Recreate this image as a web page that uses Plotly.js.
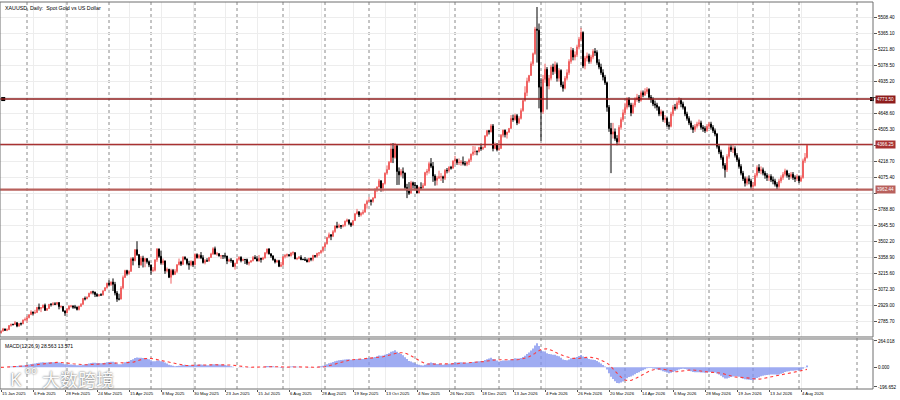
<!DOCTYPE html>
<html><head><meta charset="utf-8">
<script src="https://cdn.plot.ly/plotly-3.0.1.min.js"></script>
<style>html,body{margin:0;padding:0;background:#fff}#chart{width:900px;height:400px}</style>
</head><body><div id="chart"></div>
<script>
// ---- Data (daily XAUUSD, from 15 Jan 2025) ----
const open = [
2678,2697,2715,2703,2708,2745,2755,2754,2771,2740,2763,2760,2794,
2798,2815,2842,2866,2856,2861,2908,2898,2905,2928,2882,2897,2935,2933,2939,2936,2951,2915,2916,2876,
2858,2893,2918,2920,2910,2910,2889,2918,2935,2988,2984,3001,3034,3048,3044,3023,3011,3020,3019,3056,3084,
3124,3113,3134,3114,3037,2982,2982,3082,3175,3237,3210,3230,3343,3327,3424,3380,3288,3349,3319,3344,3317,
3288,3239,3240,3334,3431,3365,3306,3324,3235,3250,3177,3240,3203,3230,3289,3315,3294,3357,3342,3301,3288,3318,
3289,3381,3353,3373,3352,3310,3326,3322,3354,3386,3433,3385,3388,3369,3370,3368,3368,3323,3333,3328,3274,
3303,3338,3357,3326,3337,3336,3302,3313,3325,3355,3343,3324,3347,3339,3350,3397,3431,3387,3368,3336,3314,3326,3275,
3289,3362,3373,3380,3369,3396,3398,3342,3348,3356,3336,3336,3332,3315,3348,3338,3372,3365,3393,3397,3416,
3448,3477,3533,3559,3545,3586,3636,3626,3641,3634,3643,3679,3690,3660,3644,3685,3746,3764,3736,3749,3760,3833,
3858,3866,3857,3887,3961,3985,4041,3976,4018,4110,4142,4208,4326,4251,4356,4125,4095,4126,4111,3982,3951,3930,4024,
4002,4000,3932,3980,3977,4000,4115,4128,4195,4172,4084,4045,4067,4077,4077,4065,4135,4132,4163,4155,
4218,4231,4205,4206,4208,4197,4190,4208,4229,4280,4300,4304,4302,4339,4330,4339,4445,4490,4480,4533,4330,4370,
4320,4330,4450,4495,4455,4478,4510,4600,4590,4625,4560,4600,4670,4760,4830,4935,4985,5090,5180,5400,5390,
4880,4660,4950,5040,4890,4960,5060,5020,5080,4960,5030,4900,4870,4960,5010,5110,5210,5150,5170,5240,
5310,5370,5070,5140,5160,5110,5150,5200,5190,5100,5060,5010,4970,4920,4700,4510,4460,4480,4420,4390,4520,4590,
4650,4700,4770,4720,4650,4720,4770,4790,4760,4830,4810,4840,4860,4790,4770,4730,4720,4700,4640,4660,4590,
4600,4540,4530,4640,4700,4690,4740,4760,4730,4700,4640,4600,4560,4520,4500,4530,4550,4560,4520,4510,4490,
4530,4550,4520,4490,4460,4350,4300,4250,4180,4140,4260,4340,4320,4330,4270,4230,4170,4110,4060,4020,4060,4040,
3990,4000,4090,4160,4130,4140,4110,4090,4070,4080,4050,4040,4010,3990,4040,4070,4100,4130,4090,4080,4100,4070,4060,
4080,4040,4070,4220,4250
];
const high = [
2700,2724,2716,2720,2748,2763,2762,2786,2772,2765,2772,2799,2817,
2830,2845,2882,2870,2886,2911,2942,2910,2932,2942,2900,2937,2947,2955,2954,2956,2953,2925,2920,2880,
2898,2928,2930,2926,2930,2915,2921,2946,2990,3005,3004,3038,3055,3057,3048,3036,3025,3034,3060,3087,3128,
3149,3140,3167,3136,3055,3030,3099,3193,3245,3245,3240,3357,3358,3430,3500,3386,3368,3370,3352,3350,3328,
3290,3269,3336,3438,3435,3416,3345,3326,3265,3252,3253,3252,3250,3295,3345,3325,3366,3365,3344,3325,3330,3325,
3392,3392,3385,3403,3375,3340,3348,3360,3397,3446,3452,3404,3395,3375,3372,3397,3368,3346,3350,3332,3308,
3350,3365,3365,3345,3342,3345,3316,3330,3368,3375,3366,3377,3352,3361,3402,3433,3438,3393,3375,3345,3334,3334,3314,
3363,3385,3390,3384,3398,3410,3400,3352,3368,3375,3346,3358,3345,3350,3351,3379,3376,3394,3400,3423,3454,
3489,3540,3578,3562,3600,3642,3674,3657,3645,3648,3685,3703,3697,3670,3687,3750,3790,3767,3762,3782,3835,3871,
3896,3875,3895,3977,3991,4059,4046,4022,4116,4179,4218,4380,4380,4381,4358,4161,4146,4161,4114,4014,4030,4041,4034,
4030,4003,3990,4028,4020,4122,4148,4212,4245,4210,4100,4085,4132,4110,4087,4146,4156,4172,4175,4225,
4265,4240,4242,4227,4259,4218,4218,4242,4285,4353,4350,4315,4345,4375,4350,4448,4497,4498,4550,4550,4385,4378,
4402,4460,4500,4500,4480,4515,4630,4634,4643,4640,4620,4690,4765,4888,4965,4990,5110,5190,5420,5598,5450,
4960,4990,5090,5060,4990,5080,5090,5110,5100,5050,5040,4930,4980,5040,5130,5240,5230,5200,5260,5330,
5410,5380,5160,5190,5180,5170,5220,5230,5210,5130,5090,5040,4990,4930,4720,4560,4560,4510,4450,4540,4610,4680,
4740,4790,4790,4740,4740,4790,4820,4810,4850,4850,4870,4880,4870,4810,4790,4760,4740,4710,4680,4670,4630,
4610,4570,4660,4720,4730,4760,4790,4780,4750,4710,4660,4620,4580,4540,4550,4570,4590,4580,4540,4530,4550,
4570,4570,4540,4510,4470,4370,4320,4270,4200,4280,4370,4360,4360,4350,4290,4250,4190,4130,4080,4080,4090,4060,
4030,4110,4180,4190,4170,4160,4130,4110,4100,4100,4080,4060,4030,4060,4090,4120,4150,4140,4110,4120,4120,4090,4100,
4090,4090,4240,4290,4370
];
const low = [
2675,2690,2696,2695,2705,2735,2745,2750,2730,2735,2745,2758,2790,
2772,2810,2840,2835,2853,2860,2880,2865,2900,2875,2877,2895,2915,2925,2928,2930,2890,2900,2866,2832,
2855,2880,2906,2895,2895,2880,2880,2910,2930,2970,2982,3000,3024,3024,3000,3001,3005,3010,3013,3055,3076,
3100,3100,3054,3015,2957,2970,2980,3070,3173,3193,3200,3228,3284,3320,3368,3260,3282,3265,3267,3300,3268,
3202,3223,3230,3315,3351,3290,3287,3208,3220,3170,3120,3195,3200,3216,3285,3278,3287,3330,3285,3245,3275,3270,
3285,3345,3343,3340,3300,3293,3316,3318,3350,3378,3382,3370,3362,3341,3341,3345,3295,3313,3308,3268,3246,
3296,3326,3311,3322,3296,3287,3283,3310,3320,3340,3320,3318,3309,3331,3345,3383,3381,3351,3325,3301,3308,3268,3268,
3280,3346,3355,3364,3364,3375,3340,3331,3340,3330,3331,3323,3312,3312,3321,3321,3351,3352,3370,3389,3400,
3437,3470,3525,3510,3537,3576,3614,3618,3611,3624,3630,3670,3645,3627,3643,3685,3740,3717,3722,3737,3758,3792,
3851,3820,3845,3886,3940,3985,3944,3945,4007,4095,4142,4201,4200,4239,4004,4005,4078,4062,3967,3886,3915,3929,3972,
3964,3929,3930,3968,3975,3999,4090,4106,4155,4032,3998,4001,4058,4040,4022,4048,4108,4115,4142,4150,
4190,4184,4182,4176,4180,4173,4172,4182,4210,4265,4272,4270,4296,4310,4317,4338,4436,4456,4475,4305,4325,4305,
4311,4330,4430,4430,4420,4470,4510,4570,4580,4540,4550,4590,4660,4750,4800,4920,4980,5070,5170,5100,4690,
4400,4640,4920,4680,4860,4940,4990,5000,4930,4930,4880,4840,4860,4940,4990,5090,5120,5120,5150,5220,
5290,5050,5040,5110,5090,5090,5130,5160,5080,5040,4990,4940,4900,4660,4480,4110,4420,4400,4360,4370,4500,4570,
4630,4680,4700,4620,4640,4700,4750,4740,4750,4790,4800,4820,4770,4740,4710,4690,4670,4620,4620,4570,4560,
4520,4500,4520,4620,4670,4680,4720,4700,4680,4620,4580,4540,4500,4470,4480,4510,4530,4500,4480,4470,4480,
4510,4500,4470,4440,4330,4280,4230,4150,4070,4120,4240,4300,4290,4250,4210,4150,4090,4040,3990,4000,4010,3970,
3960,3990,4070,4110,4100,4090,4060,4040,4040,4030,4010,3990,3960,3970,4020,4050,4080,4070,4050,4060,4050,4030,4040,
4020,4030,4060,4200,4240
];
const close = [
2697,2715,2703,2708,2745,2755,2754,2771,2740,2763,2760,2794,2798,
2815,2842,2866,2856,2861,2908,2898,2905,2928,2882,2897,2935,2933,2939,2936,2951,2915,2916,2876,2858,
2893,2918,2920,2910,2910,2889,2918,2935,2988,2984,3001,3034,3048,3044,3023,3011,3020,3019,3056,3084,3124,
3113,3134,3114,3037,2982,2982,3082,3175,3237,3210,3230,3343,3327,3424,3380,3288,3349,3319,3344,3317,3288,
3239,3240,3334,3431,3365,3306,3324,3235,3250,3177,3240,3203,3230,3289,3315,3294,3357,3342,3301,3288,3318,3289,
3381,3353,3373,3352,3310,3326,3322,3354,3386,3433,3385,3388,3369,3370,3368,3368,3323,3333,3328,3274,3303,
3338,3357,3326,3337,3336,3302,3313,3325,3355,3343,3324,3347,3339,3350,3397,3431,3387,3368,3336,3314,3326,3275,3289,
3362,3373,3380,3369,3396,3398,3342,3348,3356,3336,3336,3332,3315,3348,3338,3372,3365,3393,3397,3416,3448,
3477,3533,3559,3545,3586,3636,3626,3641,3634,3643,3679,3690,3660,3644,3685,3746,3764,3736,3749,3760,3833,3858,
3866,3857,3887,3961,3985,4041,3976,4018,4110,4142,4208,4326,4251,4356,4125,4095,4126,4111,3982,3951,3930,4024,4002,
4000,3932,3980,3977,4000,4115,4128,4195,4172,4084,4045,4067,4077,4077,4065,4135,4132,4163,4155,4218,
4231,4205,4206,4208,4197,4190,4208,4229,4280,4300,4304,4302,4339,4330,4339,4445,4490,4480,4533,4330,4370,4320,
4330,4450,4495,4455,4478,4510,4600,4590,4625,4560,4600,4670,4760,4830,4935,4985,5090,5180,5400,5390,4880,
4660,4950,5040,4890,4960,5060,5020,5080,4960,5030,4900,4870,4960,5010,5110,5210,5150,5170,5240,5310,
5370,5070,5140,5160,5110,5150,5200,5190,5100,5060,5010,4970,4920,4700,4510,4460,4480,4420,4390,4520,4590,4650,
4700,4770,4720,4650,4720,4770,4790,4760,4830,4810,4840,4860,4790,4770,4730,4720,4700,4640,4660,4590,4600,
4540,4530,4640,4700,4690,4740,4760,4730,4700,4640,4600,4560,4520,4500,4530,4550,4560,4520,4510,4490,4530,
4550,4520,4490,4460,4350,4300,4250,4180,4140,4260,4340,4320,4330,4270,4230,4170,4110,4060,4020,4060,4040,3990,
4000,4090,4160,4130,4140,4110,4090,4070,4080,4050,4040,4010,3990,4040,4070,4100,4130,4090,4080,4100,4070,4060,4080,
4040,4070,4220,4250,4360
];
const startDate = '2025-01-15';
const holidays = ['2025-04-18','2025-12-25','2026-01-01','2026-04-03'];
const tickLabels = ['15 Jan 2025','6 Feb 2025','28 Feb 2025','24 Mar 2025','15 Apr 2025','8 May 2025','30 May 2025',
  '23 Jun 2025','15 Jul 2025','6 Aug 2025','28 Aug 2025','19 Sep 2025','13 Oct 2025','4 Nov 2025','26 Nov 2025',
  '18 Dec 2025','13 Jan 2026','4 Feb 2026','26 Feb 2026','20 Mar 2026','14 Apr 2026','6 May 2026','28 May 2026',
  '19 Jun 2026','13 Jul 2026','4 Aug 2026'];
const labelStep = 16;
const priceTicks = [5508.40,5365.10,5221.80,5078.50,4935.20,4791.90,4648.60,4505.30,4362.00,4218.70,4075.40,
  3932.10,3788.80,3645.50,3502.20,3358.90,3215.60,3072.30,2929.00,2785.70];
const levels = [4773.50, 4366.25, 3962.44];
const macdTicks = [264.018, 0, -196.652];
const macdTickText = ['264.018','0.000','-196.652'];
const macdLabel = 'MACD(12,26,9) 28.563 13.571';
const chartTitle = 'XAUUSD, Daily:  Spot Gold vs US Dollar';

// ---- Derived ----
const idx = close.map((_, i) => i);
const iso = d => d.toISOString().slice(0, 10);
const dates = [];
let cur = new Date(startDate + 'T00:00:00Z');
while (dates.length < close.length) {
  const w = cur.getUTCDay(), s = iso(cur);
  if (w !== 0 && w !== 6 && !holidays.includes(s)) dates.push(s);
  cur.setUTCDate(cur.getUTCDate() + 1);
}
const xRange = [-0.5, 436];
const separators = [];
for (let i = 1; i < dates.length; i++) if (dates[i].slice(0, 7) !== dates[i - 1].slice(0, 7)) separators.push(i);
{ // future area: calendar days after last bar
  const last = new Date(dates[dates.length - 1] + 'T00:00:00Z');
  let prevM = dates[dates.length - 1].slice(0, 7);
  for (let k = 1; dates.length - 1 + k <= xRange[1]; k++) {
    const d = new Date(last); d.setUTCDate(d.getUTCDate() + k);
    const m = iso(d).slice(0, 7);
    if (m !== prevM) separators.push(dates.length - 1 + k);
    prevM = m;
  }
}
function ema(src, p) { const k = 2 / (p + 1), out = []; src.forEach((v, i) => out.push(i === 0 ? v : out[i - 1] + k * (v - out[i - 1]))); return out; }
const e12 = ema(close, 12), e26 = ema(close, 26);
const macd = close.map((_, i) => e12[i] - e26[i]);
const signal = macd.map((_, i) => { const w = macd.slice(Math.max(0, i - 8), i + 1); return w.reduce((a, b) => a + b, 0) / w.length; });
const labelPos = tickLabels.map((_, k) => k * labelStep);

// price tick labels hidden where a level label box covers them (as in the reference)
const priceTickText = priceTicks.map(v => levels.some(l => Math.abs(l - v) < 45) ? '' : v.toFixed(2));

const levelStyle = [{c:'#8e1c1c', w:1.5}, {c:'#a83232', w:1.5}, {c:'#b8605c', w:2.2}];

const traces = [
  {type:'candlestick', x:idx, open:open, high:high, low:low, close:close, xaxis:'x', yaxis:'y',
   increasing:{line:{color:'#f06262', width:1}, fillcolor:'#f8b2b2'},
   decreasing:{line:{color:'#000000', width:1}, fillcolor:'#000000'},
   whiskerwidth:0, hoverinfo:'skip'},
  {type:'bar', x:idx, y:macd, xaxis:'x', yaxis:'y2', marker:{color:'#7f91ee', line:{width:0}}, hoverinfo:'skip'},
  {type:'scatter', mode:'lines', x:idx, y:signal, xaxis:'x', yaxis:'y2', line:{color:'#ff3b3b', width:1.1, dash:'dot'}, hoverinfo:'skip'},
  {type:'scatter', mode:'markers', x:[xRange[0] + 1.6, xRange[1] - 0.5], y:[levels[0], levels[0]], xaxis:'x', yaxis:'y',
   marker:{symbol:'square', size:4, color:'#000'}, cliponaxis:false, hoverinfo:'skip'}
];

const shapes = [];
separators.forEach(i => shapes.push({type:'line', xref:'x', yref:'paper', x0:i, x1:i, y0:0, y1:1, layer:'below',
  line:{color:'#8a8a8a', width:1, dash:'dot'}}));
levels.forEach((v, k) => shapes.push({type:'line', xref:'paper', yref:'y', x0:0, x1:1, y0:v, y1:v,
  line:{color:levelStyle[k].c, width:levelStyle[k].w}}));
shapes.push({type:'rect', xref:'paper', yref:'y domain', x0:0, x1:1, y0:0, y1:1, line:{color:'#6e6e6e', width:1}});
shapes.push({type:'rect', xref:'paper', yref:'y2 domain', x0:0, x1:1, y0:0, y1:1, line:{color:'#6e6e6e', width:1}});

const FF = 'Liberation Sans, Arial, sans-serif';
const small = {family:FF, size:4.6, color:'#000'};
const annotations = [];
annotations.push({xref:'paper', yref:'paper', x:0, y:1, xanchor:'left', yanchor:'top', xshift:3, yshift:-1,
  text:chartTitle, showarrow:false, font:{family:FF, size:5.3, color:'#000'}});
annotations.push({xref:'paper', yref:'y2 domain', x:0, y:1, xanchor:'left', yanchor:'top', xshift:3, yshift:-2,
  text:macdLabel, showarrow:false, font:{family:FF, size:5, color:'#000'}});
tickLabels.forEach((t, k) => annotations.push({xref:'x', yref:'paper', x:labelPos[k], y:0, xanchor:'left', yanchor:'top',
  xshift:0, yshift:-1, text:t, showarrow:false, borderpad:0, font:{family:FF, size:4.3, color:'#000'}}));
levels.forEach((v, k) => annotations.push({xref:'paper', yref:'y', x:1, y:v, xanchor:'left', yanchor:'middle', xshift:2,
  text:v.toFixed(2), showarrow:false, bgcolor:levelStyle[k].c, borderpad:1,
  font:{family:FF, size:4.6, color:'#ffffff'}}));
const wmFont = {size:18, color:'rgba(255,255,255,0.97)', shadow:'0px 0px 2px rgba(70,70,70,1)'};
annotations.push({xref:'paper', yref:'paper', x:0.009, y:0.025, xanchor:'left', yanchor:'middle', showarrow:false,
  text:'K', font:Object.assign({family:'Noto Sans'}, wmFont)});
annotations.push({xref:'paper', yref:'paper', x:0.026, y:0.05, xanchor:'left', yanchor:'middle', showarrow:false,
  text:'oo', font:Object.assign({}, wmFont, {family:'Noto Sans', size:10})});
annotations.push({xref:'paper', yref:'paper', x:0.046, y:0.025, xanchor:'left', yanchor:'middle', showarrow:false,
  text:'大数跨境', font:Object.assign({family:'Noto Sans CJK SC'}, wmFont)});

const layout = {
  width:900, height:400, margin:{l:0, r:27, t:2, b:11},
  paper_bgcolor:'#ffffff', plot_bgcolor:'#ffffff', showlegend:false,
  font:{family:FF, size:5, color:'#000'},
  bargap:0.25,
  xaxis:{range:xRange, anchor:'y2', tickvals:labelPos, showticklabels:false, ticks:'outside', ticklen:2,
    tickcolor:'#555', showgrid:true, gridcolor:'#ededed', zeroline:false, rangeslider:{visible:false}, fixedrange:true},
  yaxis:{domain:[0.1344, 1], range:[2642.5, 5642.7], side:'right', tickvals:priceTicks,
    ticktext:priceTickText, ticks:'outside', ticklen:3, tickcolor:'#555',
    showgrid:true, gridcolor:'#ededed', zeroline:false, tickfont:small, fixedrange:true},
  yaxis2:{domain:[0, 0.1292], range:[-216.67, 284.04], side:'right', tickvals:macdTicks, ticktext:macdTickText,
    ticks:'outside', ticklen:3, tickcolor:'#555', showgrid:false, zeroline:false, tickfont:small, fixedrange:true},
  shapes:shapes, annotations:annotations
};
Plotly.newPlot('chart', traces, layout, {staticPlot:true, displayModeBar:false});
</script>
</body></html>
